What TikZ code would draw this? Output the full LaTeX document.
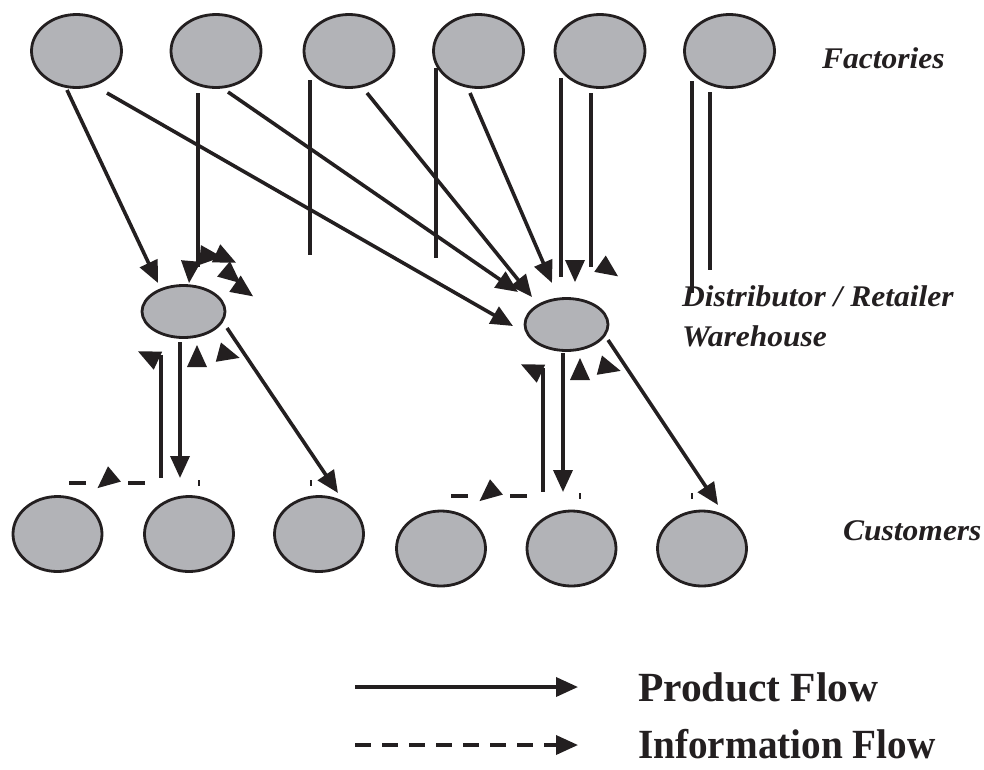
\documentclass[tikz,border=0pt]{standalone}
\usepackage{fontspec}
\setmainfont{Liberation Serif}
\usetikzlibrary{arrows.meta,shapes.geometric}
\definecolor{ink}{RGB}{35,31,32}
\definecolor{nodegray}{RGB}{178,179,183}
\begin{document}
\begin{tikzpicture}[x=1pt,y=-1pt,
  ell/.style={ellipse, draw=ink, fill=nodegray, line width=2.8pt, inner sep=0pt},
  fac/.style={ell, minimum width=90pt, minimum height=73pt},
  dist/.style={ell, minimum width=83pt, minimum height=52pt},
  cust/.style={ell, minimum width=89pt, minimum height=75pt},
  bare/.style={draw=ink, line width=3.6pt},
  flow/.style={bare, -{Triangle[length=22pt,width=19pt]}},
  info/.style={flow, dash pattern=on 16pt off 11pt},
  infoseg/.style={bare, dash pattern=on 17pt off 42pt},
  tick/.style={draw=ink, line width=1.2pt},
  tri/.pic={\fill[ink] (11,0) -- (-11,10) -- (-11,-10) -- cycle;},
  lab/.style={font=\fontsize{30}{34}\selectfont\bfseries\itshape, anchor=base west, inner sep=0pt, text=ink},
  leg/.style={font=\fontsize{41.5}{48}\selectfont\bfseries, anchor=base west, inner sep=0pt, text=ink},
]
\useasboundingbox (0,0) rectangle (984,769);

% factories
\node[fac] (F1) at (76.5,51) {};
\node[fac] (F2) at (216,51) {};
\node[fac] (F3) at (349,51) {};
\node[fac] (F4) at (478.5,51) {};
\node[fac] (F5) at (600,51) {};
\node[fac] (F6) at (729.5,51) {};
% distributors
\node[dist] (D1) at (183.5,311.5) {};
\node[dist] (D2) at (566.5,324.5) {};
% customers
\node[cust] (C1) at (57.5,534) {};
\node[cust] (C2) at (189,534) {};
\node[cust] (C3) at (319,534) {};
\node[cust] (C4) at (441,548.5) {};
\node[cust] (C5) at (571.5,548.5) {};
\node[cust] (C6) at (702,548.5) {};

% labels
\node[lab] (lf) at (822,68) {\scalebox{1.05}[1]{Factories}};
\node[lab] (ld) at (682,306) {\scalebox{1.05}[1]{Distributor / Retailer}};
\node[lab] (lw) at (682,346) {\scalebox{1.05}[1]{Warehouse}};
\node[lab] (lc) at (843,540) {\scalebox{1.05}[1]{Customers}};

% connector end points
\coordinate (f1a) at (67,90);   \coordinate (d1a) at (158,283);
\coordinate (f1b) at (107,93);  \coordinate (d2a) at (513,326);
\coordinate (f2a) at (198,93);  \coordinate (f2e) at (198,267);
\coordinate (f2b) at (228,92);  \coordinate (d2b) at (518,292);
\coordinate (f3a) at (367,93);  \coordinate (d2c) at (532,297);
\coordinate (f4a) at (470,93);  \coordinate (d2d) at (552,283);
\coordinate (f3v) at (310,80);  \coordinate (f3w) at (310,255);
\coordinate (f4v) at (436,68);  \coordinate (f4w) at (436,258);
\coordinate (f5v) at (561,78);  \coordinate (f5w) at (561,277);
\coordinate (f5x) at (591,93);  \coordinate (f5y) at (591,267);
\coordinate (f6v) at (692,81);  \coordinate (f6w) at (692,293);
\coordinate (f6x) at (710,92);  \coordinate (f6y) at (710,270);

\coordinate (d1u) at (161,355); \coordinate (c2u) at (161,478);
\coordinate (d1d) at (180,342); \coordinate (c2d) at (180,478);
\coordinate (d1r) at (227,328); \coordinate (c3t) at (338,493);
\coordinate (i1a) at (145,483); \coordinate (i1b) at (69,483);

\coordinate (d2u) at (543,368); \coordinate (c5u) at (543,492);
\coordinate (d2l) at (563,353); \coordinate (c5d) at (563,492);
\coordinate (d2r) at (608,340); \coordinate (c6t) at (718,505);
\coordinate (i2a) at (527,496); \coordinate (i2b) at (451,496);

% product flows factory -> distributor
\draw[flow] (f1a) -- (d1a);
\draw[flow] (f1b) -- (d2a);
\draw[bare] (f2a) -- (f2e);
\draw[flow] (f2b) -- (d2b);
\draw[flow] (f3a) -- (d2c);
\draw[flow] (f4a) -- (d2d);
% information lines (rendered solid, broken)
\draw[bare] (f3v) -- (f3w);
\draw[bare] (f4v) -- (f4w);
\draw[bare] (f5v) -- (f5w);
\draw[bare] (f5x) -- (f5y);
\draw[bare] (f6v) -- (f6w);
\draw[bare] (f6x) -- (f6y);

% floating heads around D1 (top)
\pic[rotate=-95] at (190,272) {tri};
\pic[rotate=-5] at (211,256) {tri};
\pic[rotate=-25] at (226,258) {tri};
\pic[rotate=-40] at (232,276) {tri};
\pic[rotate=-35] at (244,290) {tri};
% floating heads around D2 (top)
\pic[rotate=-90] at (575,271) {tri};
\pic[rotate=-35] at (609,270) {tri};

% distributor 1 -> customers
\draw[bare] (d1u) -- (c2u);
\draw[flow] (d1d) -- (c2d);
\draw[flow] (d1r) -- (c3t);
\pic[rotate=155] at (148,356) {tri};
\pic[rotate=90] at (197,356) {tri};
\pic[rotate=-15] at (229,355) {tri};
\draw[infoseg] (i1a) -- (i1b);
\pic[rotate=-140] at (106,481) {tri};
\draw[tick] (199,480) -- (199,486);
\draw[tick] (311,480) -- (311,486);

% distributor 2 -> customers
\draw[bare] (d2u) -- (c5u);
\draw[flow] (d2l) -- (c5d);
\draw[flow] (d2r) -- (c6t);
\pic[rotate=155] at (531,369) {tri};
\pic[rotate=90] at (580,369) {tri};
\pic[rotate=-15] at (610,368) {tri};
\draw[infoseg] (i2a) -- (i2b);
\pic[rotate=-140] at (488,494) {tri};
\draw[tick] (580,493) -- (580,499);
\draw[tick] (692,493) -- (692,499);

% legend
\coordinate (lpa) at (355,687); \coordinate (lpb) at (578,687);
\coordinate (lia) at (355,745); \coordinate (lib) at (578,745);
\draw[flow] (lpa) -- (lpb);
\draw[info] (lia) -- (lib);
\node[leg] (lp) at (638,701) {Product Flow};
\node[leg] (li) at (638,758) {\scalebox{0.945}[1]{Information Flow}};
\end{tikzpicture}
\end{document}
